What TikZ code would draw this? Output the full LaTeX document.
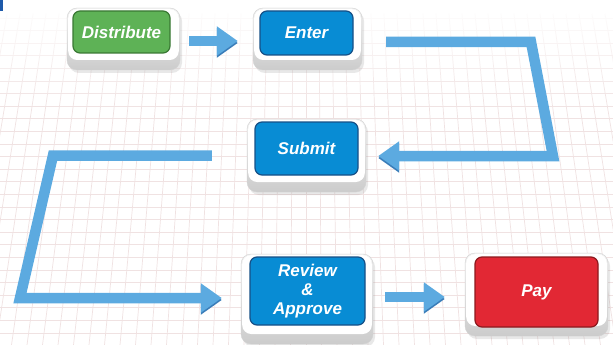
\documentclass[tikz,border=0pt]{standalone}
\usepackage{fontspec}
\newfontfamily\labfont{Liberation Sans}
\usetikzlibrary{arrows.meta,calc,shadows,fadings}
\definecolor{gridc}{RGB}{240,226,226}
\definecolor{boxgreen}{RGB}{94,178,86}
\definecolor{greenedge}{RGB}{58,120,52}
\definecolor{boxblue}{RGB}{8,140,212}
\definecolor{blueedge}{RGB}{22,80,135}
\definecolor{boxred}{RGB}{226,40,52}
\definecolor{rededge}{RGB}{140,25,30}
\definecolor{arrowblue}{RGB}{92,170,224}
\definecolor{arrowdark}{RGB}{58,125,185}
\definecolor{markblue}{RGB}{30,90,170}
\begin{document}
\begin{tikzpicture}[x=1pt,y=-1pt,
  basebox/.style={rounded corners=10pt, draw=gray!35, top color=gray!10, bottom color=gray!40,
    inner sep=0pt,
    drop shadow={opacity=0.18, shadow xshift=2pt, shadow yshift=-3pt},
    path picture={\fill[white, rounded corners=9pt]
      ([xshift=1.2pt,yshift=-1.2pt]path picture bounding box.north west) rectangle
      ([xshift=-1.2pt,yshift=10pt]path picture bounding box.south east);}},
  face/.style={rounded corners=7pt, line width=1.2pt, inner sep=0pt, text=white, align=center,
    font=\labfont\bfseries\itshape\fontsize{17}{19}\selectfont},
  greenface/.style={face, fill=boxgreen, draw=greenedge},
  blueface/.style={face, fill=boxblue, draw=blueedge},
  redface/.style={face, fill=boxred, draw=rededge},
  flow/.style={draw=arrowblue, line width=10.5pt, line join=miter,
    -{Triangle[length=21pt,width=28pt]},
    preaction={draw=arrowdark, transform canvas={yshift=-2pt}}},
  gridline/.style={gridc, line width=0.7pt}
]
\useasboundingbox[fill=white] (0,0) rectangle (613,345);
% background grid
\begin{scope}
  \clip (0,14) rectangle (613,345);
  \foreach \i in {-25,...,25} \draw[gridline] (306+\i*15.5,345) -- (306+\i*13,14);
  \foreach \k in {0,...,26} \draw[gridline] (0,18+\k*12.6) -- (613,18+\k*12.6);
\end{scope}
\fill[white, path fading=south] (0,0) rectangle (613,110);
% corner mark
\fill[markblue] (0,0) rectangle (3,11);
% boxes
\node[basebox, minimum width=113pt, minimum height=62pt] (distbase) at (123.5,39) {};
\node[greenface, minimum width=97pt, minimum height=42pt] (distribute) at (121.5,32) {Distribute};
\node[basebox, minimum width=109pt, minimum height=62pt] (enterbase) at (307.5,39) {};
\node[blueface, minimum width=93pt, minimum height=44pt] (enter) at (306.5,33) {Enter};
\node[basebox, minimum width=119pt, minimum height=73pt] (submitbase) at (306.5,155.5) {};
\node[blueface, minimum width=103pt, minimum height=53pt] (submit) at (306.5,148.5) {Submit};
\node[basebox, minimum width=132pt, minimum height=90pt] (reviewbase) at (307,299) {};
\node[blueface, minimum width=115pt, minimum height=68pt] (review) at (307.5,291) {Review\\\&\\Approve};
\node[basebox, minimum width=143pt, minimum height=83pt] (paybase) at (536.5,294.5) {};
\node[redface, minimum width=123pt, minimum height=70pt] (pay) at (536.5,292) {Pay};
% connectors
\draw[flow] ($(distbase.east)+(9,2)$) -- ($(enterbase.west)+(-15,2)$);
\draw[flow] ($(enterbase.east)+(24,3)$) -- (531,42) -- (553,156) -- ($(submitbase.east)+(12,0.5)$);
\draw[flow] ($(submitbase.west)+(-35,0)$) -- (53,155.5) -- (20,298) -- ($(reviewbase.west)+(-19,-1)$);
\draw[flow] ($(reviewbase.east)+(12,-2)$) -- ($(paybase.west)+(-20,2.5)$);
\end{tikzpicture}
\end{document}
